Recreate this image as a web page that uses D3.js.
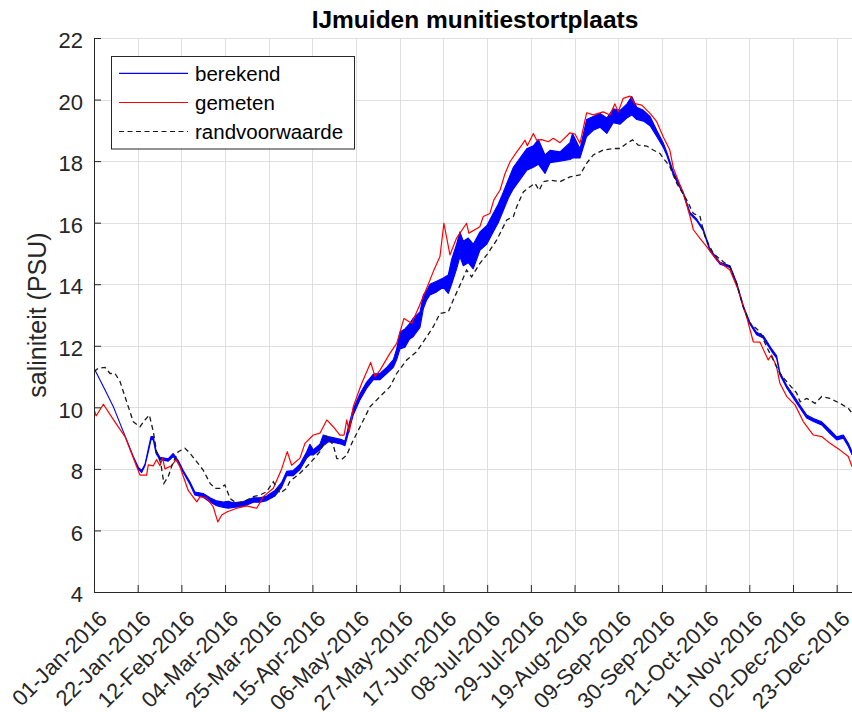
<!DOCTYPE html>
<html><head><meta charset="utf-8">
<script src="https://cdn.jsdelivr.net/npm/d3@7"></script>
<style>
body{margin:0;background:#fff}
text{font-family:"Liberation Sans",Arial,Helvetica,sans-serif}
</style>
</head><body>
<svg id="c" width="852" height="712"></svg>
<script>
// ---- data ----
const titel = "IJmuiden munitiestortplaats";
const yLabel = "saliniteit (PSU)";
const legendLabels = ["berekend", "gemeten", "randvoorwaarde"];
const tickLabels = ["01-Jan-2016","22-Jan-2016","12-Feb-2016","04-Mar-2016","25-Mar-2016","15-Apr-2016",
  "06-May-2016","27-May-2016","17-Jun-2016","08-Jul-2016","29-Jul-2016","19-Aug-2016","09-Sep-2016",
  "30-Sep-2016","21-Oct-2016","11-Nov-2016","02-Dec-2016","23-Dec-2016"];
const yTicks = [4, 6, 8, 10, 12, 14, 16, 18, 20, 22];
const xDomain = ["01-Jan-2016", "01-Jan-2017"];
const yDomain = [4, 22];

// berekend: [day of 2016, lower envelope, upper envelope] (tidal spread)
const berekend = [
 [0,11.27,11.27],[2.9,10.89,10.89],[6.1,10.46,10.46],[9.3,10.02,10.02],[12.5,9.48,9.48],[15.7,8.94,8.94],
 [18.9,8.4,8.4],[21.3,8.0,8.05],[22.9,7.88,7.95],[24.5,8.1,8.15],[26.1,8.55,8.65],[27.4,8.95,9.05],
 [28.5,8.95,9.05],[29.8,8.5,8.6],[31.7,8.3,8.38],[35.7,8.25,8.33],[38.1,8.4,8.5],[40.5,8.2,8.27],
 [42.9,7.88,7.95],[46.1,7.5,7.58],[48.5,7.15,7.25],[52.5,7.08,7.2],[55.8,6.92,7.06],[59,6.8,6.96],
 [62.2,6.75,6.92],[64.5,6.72,6.95],[67,6.75,6.9],[71.8,6.78,6.94],[76.6,6.92,7.06],[79.8,6.92,7.06],
 [83,6.97,7.12],[87,7.12,7.3],[90.2,7.4,7.56],[92.6,7.78,7.92],[95.8,7.78,7.95],[99,7.98,8.15],
 [102.2,8.35,8.55],[103.8,8.45,8.8],[105.4,8.45,8.62],[108.6,8.62,8.8],[110.2,8.75,9.1],[112.6,8.88,9.05],
 [115.8,8.85,9.0],[119.1,8.8,8.95],[120.6,8.75,8.9],[122.2,9.15,9.35],[124.6,9.75,9.95],[127.9,10.25,10.45],
 [131.1,10.62,10.82],[134.3,10.9,11.08],[137.5,10.9,11.1],[140.7,11.1,11.3],[143.9,11.3,11.55],
 [145.5,11.55,11.9],[147.1,11.9,12.45],[149.5,11.95,12.55],[151.5,12.2,12.7],[153.5,12.3,12.9],
 [156.7,12.6,13.1],[158.3,13.2,13.65],[160,13.5,13.8],[161.5,13.65,14.0],[164.7,13.75,14.1],
 [167.9,13.9,14.2],[170.3,13.7,14.3],[171.9,14.0,14.8],[174.3,14.5,15.3],[175.9,14.9,15.7],
 [177.5,14.6,15.4],[179.9,14.7,15.5],[182.3,14.5,15.3],[185.5,15.1,15.7],[188.8,15.3,15.9],
 [191.9,15.7,16.3],[194.3,16.0,16.6],[196.8,16.4,17.0],[199.2,16.8,17.4],[201.6,17.1,17.8],
 [204.8,17.4,18.1],[208,17.7,18.4],[211.2,17.8,18.5],[213.6,17.9,18.7],[216.8,17.6,18.2],
 [219.2,17.95,18.35],[224,18.0,18.3],[228.8,18.05,18.6],[230,18.1,18.9],[233.6,18.1,18.4],
 [236.8,18.8,19.35],[240,19.0,19.45],[243.3,19.1,19.55],[246.5,18.9,19.4],[249.6,19.25,19.7],
 [252.9,19.2,19.65],[256.1,19.4,19.85],[258.5,19.5,20.1],[260.9,19.35,19.75],[264.1,19.3,19.65],
 [267.3,19.15,19.45],[270.5,18.8,19.0],[273.6,18.45,18.6],[275.3,18.2,18.3],[278.5,17.55,17.65],
 [283.3,16.92,16.98],[286.5,16.28,16.33],[289.7,16.06,16.12],[292.9,15.73,15.79],[296.1,15.08,15.14],
 [300.9,14.65,14.71],[305.7,14.54,14.6],[308.9,14.0,14.06],[312.1,13.24,13.3],[315.3,12.7,12.76],
 [318.5,12.36,12.44],[321.7,12.25,12.33],[325.7,11.82,11.9],[328.1,11.6,11.68],[329.7,11.06,11.14],
 [333,10.63,10.71],[336.2,10.3,10.4],[339.4,9.97,10.07],[342.6,9.65,9.75],[345.8,9.54,9.64],
 [349.8,9.43,9.53],[353.8,9.15,9.27],[357,8.94,9.04],[360.2,9.0,9.1],[362.6,8.73,8.83],[364.4,8.46,8.56]
];

// gemeten: [day of 2016, salinity]
const gemeten = [
 [0,9.95],[1,9.72],[4.5,10.1],[9.3,9.6],[14.9,9.05],[18.9,8.35],[22.1,7.8],[25.3,7.8],[26.1,8.13],
 [28.5,8.1],[30.1,8.3],[31.7,8.1],[33,8.35],[34.1,8.0],[37.3,8.1],[39.4,8.3],[41.3,8.07],[45.3,7.3],
 [49.4,6.93],[51,7.1],[54.2,7.05],[57.3,6.77],[59.5,6.28],[61.4,6.5],[63.8,6.6],[68.6,6.72],[73.4,6.8],
 [78.2,6.72],[81.4,7.1],[86.2,7.37],[90.2,8.0],[92.9,8.56],[95,8.12],[99,8.35],[101.4,8.83],[105.4,9.1],
 [108.6,9.16],[111.9,9.59],[115,9.37],[118.2,9.1],[120.2,9.1],[121.5,9.59],[122.7,9.2],[124.6,10.02],
 [128.7,10.78],[133,11.46],[135.1,11.0],[137.5,11.21],[142.3,11.76],[145.5,12.08],[149,12.89],
 [152.7,12.73],[155.9,13.22],[159.9,13.87],[163.1,14.41],[166.3,14.9],[168.2,15.98],[171.1,14.95],
 [174.3,15.5],[179.1,15.98],[180.2,15.66],[185.5,15.87],[187.1,16.2],[190.3,16.3],[192.2,16.74],
 [195.2,17.06],[197.6,17.6],[200,17.98],[203.2,18.3],[205.6,18.52],[207.2,18.68],[208.3,18.5],
 [211.2,18.9],[212.8,18.68],[215.2,18.7],[218.4,18.63],[220.8,18.74],[224,18.6],[228.8,18.92],
 [231.2,18.88],[233.6,18.58],[236.8,19.57],[240,19.5],[244.8,19.6],[248,19.5],[250.4,19.86],[252,19.6],
 [254.4,20.04],[257.6,20.11],[260,19.87],[263.3,19.82],[267.3,19.55],[270.5,19.28],[273.6,18.79],
 [276.8,18.36],[278.5,17.77],[283.3,16.95],[286.5,16.2],[288.1,15.77],[291.3,15.49],[294.5,15.22],
 [299.3,14.79],[305.7,14.46],[309.7,13.81],[313.7,12.94],[316.9,12.13],[320.1,12.12],[324.1,11.54],
 [325.7,11.7],[328.1,11.32],[329.7,10.78],[333,10.35],[337,10.08],[341,9.53],[345.8,9.1],[349.8,9.05],
 [353.8,8.83],[358.6,8.61],[362.6,8.4],[364.4,8.07]
];

// randvoorwaarde: [day of 2016, salinity]
const randvoorwaarde = [
 [0,11.16],[2.1,11.27],[5.3,11.3],[7.7,11.1],[10.1,11.1],[12.5,10.84],[15.7,10.18],[18.9,9.53],
 [22.1,9.37],[24.5,9.59],[26.6,9.75],[28.5,9.21],[30.1,8.56],[32.1,8.18],[33.6,7.53],[35.7,7.75],
 [37.8,8.18],[40.5,8.56],[43.7,8.67],[46.1,8.51],[49.4,8.23],[52.5,7.96],[55.8,7.53],[58.2,7.37],
 [60.6,7.37],[62.9,7.48],[65.4,7.04],[68.6,6.88],[71.8,6.93],[76.6,7.1],[79.8,7.15],[83,7.26],
 [86.2,7.58],[89.4,7.21],[92.6,7.37],[94.2,7.6],[99,7.86],[103.8,8.18],[108.6,8.56],[111.9,9.05],
 [115,8.78],[116.7,8.34],[119.1,8.31],[121.5,8.45],[123.9,8.83],[127.9,9.37],[132.7,10.02],
 [137.5,10.35],[142.3,10.67],[145.5,11.1],[150.3,11.54],[155.1,11.81],[159.9,12.29],[163.1,12.62],
 [166.3,13.05],[170.3,13.1],[172.7,13.49],[176.7,14.08],[179.1,14.46],[181.5,14.24],[185.5,14.68],
 [188.8,14.95],[193.6,15.44],[198.4,16.09],[201.6,16.2],[203.2,16.52],[206.4,17.0],[209.6,17.17],
 [212,17.28],[214,17.05],[216,17.33],[219.2,17.38],[224,17.33],[228.8,17.49],[233.6,17.55],
 [236.8,17.93],[240,18.2],[244.8,18.36],[249.6,18.41],[252.9,18.41],[256.1,18.58],[258.9,18.69],
 [261.6,18.52],[265.7,18.49],[268.8,18.36],[272,18.25],[276.8,17.82],[280.1,17.28],[284.9,16.74],
 [288.1,16.3],[291.3,16.2],[293.7,15.54],[297.7,15.0],[302.5,14.73],[305.7,14.57],[308.9,14.03],
 [312.1,13.27],[315.3,12.73],[320.1,12.46],[323.3,11.97],[326.5,11.54],[329.7,11.1],[333.7,10.78],
 [337.8,10.46],[339.4,10.18],[342.6,10.29],[346.6,10.13],[349.8,10.35],[353.8,10.29],[358.6,10.13],
 [362.6,9.97],[364.4,9.81]
];

// ---- drawing ----
const W = 852, H = 712;
const M = {left: 94, top: 38, bottom: 592, right: 855.4};
const parse = d3.utcParse("%d-%b-%Y");
const t0 = parse(xDomain[0]);
const toDate = d => new Date(t0.getTime() + d * 864e5);

const x = d3.scaleUtc().domain(xDomain.map(parse)).range([M.left, M.right]);
const y = d3.scaleLinear().domain(yDomain).range([M.bottom, M.top]);
const tickDates = tickLabels.map(parse);

const axisColor = "#262626";
const svg = d3.select("#c");
svg.append("rect").attr("width", W).attr("height", H).attr("fill", "#fff");

// grid
const grid = svg.append("g").attr("stroke", "#dfdfdf").attr("stroke-width", 1);
grid.selectAll(".gx").data(tickDates).join("line")
  .attr("x1", d => Math.round(x(d)) + 0.5).attr("x2", d => Math.round(x(d)) + 0.5)
  .attr("y1", M.top).attr("y2", M.bottom);
grid.selectAll(".gy").data(yTicks).join("line")
  .attr("x1", M.left).attr("x2", W)
  .attr("y1", d => Math.round(y(d)) + 0.5).attr("y2", d => Math.round(y(d)) + 0.5);

// clip
svg.append("clipPath").attr("id", "clip").append("rect")
  .attr("x", M.left).attr("y", M.top).attr("width", W - M.left).attr("height", M.bottom - M.top);
const plot = svg.append("g").attr("clip-path", "url(#clip)");

const area = d3.area().x(d => x(toDate(d[0]))).y0(d => y(d[1])).y1(d => y(d[2]));
plot.append("path").datum(berekend).attr("d", area)
  .attr("fill", "#0000ff").attr("stroke", "#0000ff").attr("stroke-width", 1.1).attr("stroke-linejoin", "round");

const line = d3.line().x(d => x(toDate(d[0]))).y(d => y(d[1]));
plot.append("path").datum(gemeten).attr("d", line)
  .attr("fill", "none").attr("stroke", "#ff0000").attr("stroke-width", 1.2).attr("stroke-linejoin", "round");
plot.append("path").datum(randvoorwaarde).attr("d", line)
  .attr("fill", "none").attr("stroke", "#1a1a1a").attr("stroke-width", 1.3).attr("stroke-dasharray", "5,3.5");

// axes
const xAxis = d3.axisBottom(x).tickValues(tickDates).tickSizeInner(-7).tickSizeOuter(0)
  .tickFormat((d, i) => tickLabels[i]);
const gx = svg.append("g").attr("transform", `translate(0,${M.bottom})`).call(xAxis);
gx.select(".domain").attr("stroke", axisColor);
gx.selectAll(".tick line").attr("stroke", axisColor);
gx.selectAll(".tick text").attr("x", 0).attr("y", 0).attr("dy", 0)
  .attr("transform", "translate(14,28) rotate(-45)")
  .attr("text-anchor", "end").attr("fill", axisColor)
  .style("font-size", "22px").style("font-family", '"Liberation Sans",Arial,sans-serif');

const yAxis = d3.axisLeft(y).tickValues(yTicks).tickSizeInner(-7).tickSizeOuter(0).tickPadding(11);
const gy = svg.append("g").attr("transform", `translate(${M.left},0)`).call(yAxis);
gy.select(".domain").attr("stroke", axisColor);
gy.selectAll(".tick line").attr("stroke", axisColor);
gy.selectAll(".tick text").attr("dy", "0.44em").attr("fill", axisColor)
  .style("font-size", "22px").style("font-family", '"Liberation Sans",Arial,sans-serif');

// title & label
svg.append("text").attr("x", 475).attr("y", 28).attr("text-anchor", "middle")
  .attr("font-weight", "bold").attr("font-size", 24.5).attr("fill", "#000").text(titel);
svg.append("text").attr("transform", "translate(46,315) rotate(-90)").attr("text-anchor", "middle")
  .attr("font-size", 25).attr("fill", axisColor).text(yLabel);

// legend
const lg = svg.append("g");
lg.append("rect").attr("x", 111.5).attr("y", 56.5).attr("width", 243).attr("height", 92.5)
  .attr("fill", "#fff").attr("stroke", axisColor).attr("stroke-width", 1);
const legendStyles = [
  {stroke: "#0000ff", dash: null},
  {stroke: "#ff0000", dash: null},
  {stroke: "#1a1a1a", dash: "5,3.5"}
];
const legendY = [73.3, 102.5, 131.5];
legendLabels.forEach((lab, i) => {
  lg.append("line").attr("x1", 119).attr("x2", 188).attr("y1", legendY[i]).attr("y2", legendY[i])
    .attr("stroke", legendStyles[i].stroke).attr("stroke-width", 1.2)
    .attr("stroke-dasharray", legendStyles[i].dash);
  lg.append("text").attr("x", 195).attr("y", legendY[i]).attr("dy", "0.36em")
    .attr("font-size", 20.5).attr("fill", "#000").text(lab);
});
</script>
</body></html>
